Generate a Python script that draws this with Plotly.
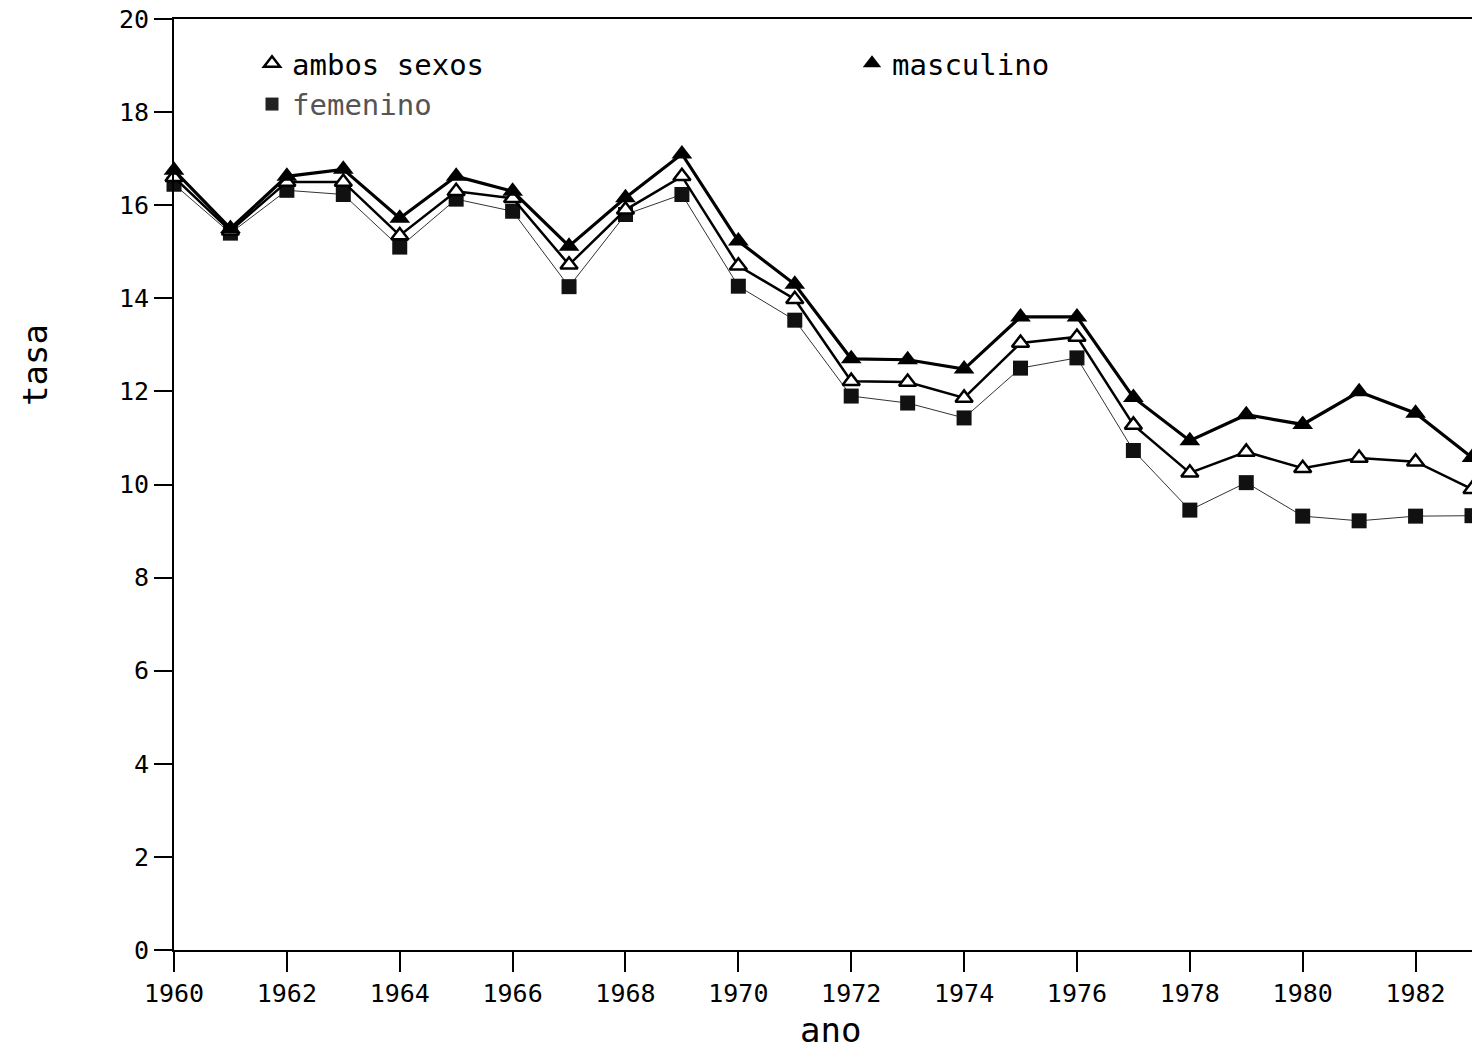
import plotly.graph_objects as go

years = list(range(1960, 1984))
masculino = [16.75, 15.5, 16.62, 16.77, 15.72, 16.62, 16.3, 15.12, 16.16, 17.1, 15.23, 14.3,
             12.7, 12.68, 12.48, 13.6, 13.6, 11.87, 10.94, 11.5, 11.29, 11.99, 11.53, 10.58]
ambos = [16.6, 15.45, 16.5, 16.5, 15.35, 16.3, 16.15, 14.72, 15.9, 16.62, 14.7, 13.98,
         12.22, 12.2, 11.86, 13.04, 13.17, 11.28, 10.25, 10.7, 10.35, 10.57, 10.49, 9.9]
femenino = [16.45, 15.4, 16.32, 16.23, 15.1, 16.13, 15.87, 14.25, 15.8, 16.23, 14.26, 13.53,
            11.9, 11.75, 11.43, 12.5, 12.72, 10.73, 9.45, 10.04, 9.32, 9.22, 9.32, 9.33]

FONT = "DejaVu Sans Mono"
W, H = 1472, 1049
L, R, T, B = 174, 0, 19, 99
pw, ph = W - L - R, H - T - B

fig = go.Figure()

fig.add_trace(go.Scatter(x=years, y=femenino, mode="lines+markers", showlegend=False,
                         line=dict(color="#333333", width=1),
                         marker=dict(symbol="square", size=15, color="#111111"),
                         cliponaxis=False))
fig.add_trace(go.Scatter(x=years, y=ambos, mode="lines+markers", showlegend=False,
                         line=dict(color="black", width=2.5),
                         marker=dict(symbol="triangle-up", size=15, color="white",
                                     line=dict(color="black", width=2.5)),
                         cliponaxis=False))
fig.add_trace(go.Scatter(x=years, y=masculino, mode="lines+markers", showlegend=False,
                         line=dict(color="black", width=3.2),
                         marker=dict(symbol="triangle-up", size=18, color="black"),
                         cliponaxis=False))

# legend entries (markers only)
fig.add_trace(go.Scatter(x=[None], y=[None], mode="markers", name="ambos sexos",
                         legend="legend",
                         marker=dict(symbol="triangle-up", size=14, color="white",
                                     line=dict(color="black", width=2.5))))
fig.add_trace(go.Scatter(x=[None], y=[None], mode="markers",
                         name="<span style='color:#555555'>femenino</span>",
                         legend="legend",
                         marker=dict(symbol="square", size=13, color="#222222")))
fig.add_trace(go.Scatter(x=[None], y=[None], mode="markers", name="masculino",
                         legend="legend2",
                         marker=dict(symbol="triangle-up", size=16, color="black")))

axis_common = dict(showgrid=False, zeroline=False, linecolor="black", linewidth=2,
                   ticks="outside", tickcolor="black", tickwidth=2,
                   tickfont=dict(family=FONT, size=25, color="black"))

fig.update_xaxes(range=[1960, 1983], tick0=1960, dtick=2, ticklen=20, mirror=True,
                 **axis_common)
fig.update_yaxes(range=[0, 20], tick0=0, dtick=2, ticklen=18, **axis_common)

fig.add_annotation(text="ano", xref="paper", yref="paper", xanchor="center", yanchor="middle",
                   x=(830 - L) / pw, y=-(1030 - (H - B)) / ph, showarrow=False,
                   font=dict(family=FONT, size=34, color="black"))
fig.add_annotation(text="tasa", xref="paper", yref="paper", textangle=-90,
                   xanchor="center", yanchor="middle",
                   x=(35 - L) / pw, y=((H - B) - 365) / ph, showarrow=False,
                   font=dict(family=FONT, size=34, color="black"))

legend_common = dict(orientation="v", xanchor="left", yanchor="top",
                     font=dict(family=FONT, size=29, color="black"),
                     bgcolor="rgba(0,0,0,0)", itemsizing="trace")

fig.update_layout(
    width=W, height=H,
    margin=dict(l=L, r=R, t=T, b=B),
    plot_bgcolor="white", paper_bgcolor="white",
    legend=dict(x=(252 - L) / pw, y=((H - B) - 38) / ph, **legend_common),
    legend2=dict(x=(852 - L) / pw, y=((H - B) - 38) / ph, **legend_common),
)

fig.write_html("out.html", config={"displayModeBar": False},
               post_script="document.body.style.margin='0';document.body.style.overflow='hidden';")
